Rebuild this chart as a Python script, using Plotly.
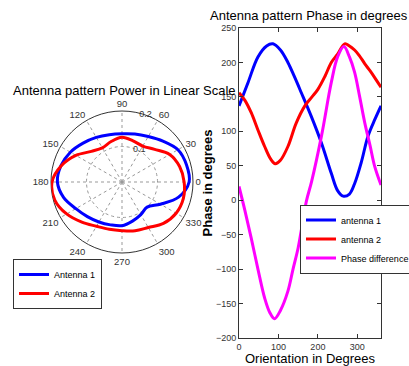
import plotly.graph_objects as go

# ---- Polar data (linear power) ----
pol_theta = [0, 15, 30, 45, 60, 75, 90, 105, 120, 135, 150, 165,
             180, 195, 210, 225, 240, 255, 270, 285, 300, 315, 330, 345, 360]
pow_ant1 = [0.189, 0.188, 0.182, 0.163, 0.148, 0.140, 0.136, 0.138, 0.145, 0.155, 0.168, 0.178,
            0.182, 0.170, 0.150, 0.138, 0.130, 0.125, 0.123, 0.114, 0.106, 0.100, 0.125, 0.165, 0.189]
pow_ant2 = [0.175, 0.168, 0.155, 0.130, 0.117, 0.120, 0.126, 0.118, 0.111, 0.122, 0.150, 0.177,
            0.197, 0.196, 0.180, 0.160, 0.144, 0.138, 0.137, 0.142, 0.148, 0.165, 0.176, 0.179, 0.175]

# ---- Phase data ----
x_ant1 = [0, 23, 48, 70, 86, 105, 124, 140, 158, 183, 209, 234, 250, 264, 280, 293, 310, 327, 345, 360]
ph_ant1 = [137, 171, 208, 224, 227, 218, 200, 180, 156, 122, 83, 39, 14, 6, 9, 24, 55, 93, 118, 137]

x_ant2 = [0, 15, 31, 48, 65, 80, 92, 105, 124, 145, 167, 185, 200, 218, 234, 250, 268, 280, 293, 305, 319, 332, 344, 360]
ph_ant2 = [156, 145, 127, 102, 78, 60, 53, 58, 78, 112, 137, 150, 161, 180, 200, 212, 227, 224, 218, 210, 198, 188, 178, 164]

x_diff = [0, 15, 31, 48, 65, 78, 90, 105, 124, 137, 150, 162, 171, 184, 209, 234, 250, 266, 280, 293, 306, 319, 332, 344, 360]
ph_diff = [20, -15, -55, -100, -142, -163, -172, -160, -132, -100, -69, -30, -1, 27, 93, 171, 208, 223, 208, 186, 150, 112, 80, 49, 22]

W, H = 409, 366
def px(x):
    return x / W
def py(y):
    return 1 - y / H

fig = go.Figure()

fig.add_trace(go.Scatterpolar(r=pow_ant1, theta=pol_theta, mode="lines", name="Antenna 1",
                              line=dict(color="#0000FF", width=3, shape="spline"), legend="legend"))
fig.add_trace(go.Scatterpolar(r=pow_ant2, theta=pol_theta, mode="lines", name="Antenna 2",
                              line=dict(color="#FF0000", width=3, shape="spline"), legend="legend"))

fig.add_trace(go.Scatter(x=x_ant1, y=ph_ant1, mode="lines", name="antenna 1",
                         line=dict(color="#0000FF", width=3, shape="spline"), legend="legend2"))
fig.add_trace(go.Scatter(x=x_ant2, y=ph_ant2, mode="lines", name="antenna 2",
                         line=dict(color="#FF0000", width=3, shape="spline"), legend="legend2"))
fig.add_trace(go.Scatter(x=x_diff, y=ph_diff, mode="lines", name="Phase difference",
                         line=dict(color="#FF00FF", width=3, shape="spline"), legend="legend2"))

tickfont = dict(family="Liberation Sans, Arial, sans-serif", size=9, color="#333")

fig.update_layout(
    template="none",
    width=W, height=H,
    margin=dict(l=0, r=0, t=0, b=0, autoexpand=False),
    paper_bgcolor="white", plot_bgcolor="white",
    font=dict(family="Liberation Sans, Arial, sans-serif", color="#000"),
    polar=dict(
        domain=dict(x=[px(51), px(193)], y=[py(253), py(111)]),
        bgcolor="white",
        angularaxis=dict(tickmode="array", tickvals=list(range(0, 360, 30)),
                         direction="counterclockwise", rotation=0,
                         showline=True, linecolor="#333", linewidth=1,
                         showgrid=True, gridcolor="#999", griddash="dot", gridwidth=1,
                         ticks="", tickfont=dict(size=9.5, color="#333"), layer="below traces"),
        radialaxis=dict(range=[0, 0.2], tickvals=[0.1, 0.2], ticktext=["0.1", "0.2"],
                        angle=80, tickangle=80, showline=False, showgrid=True, gridcolor="#999",
                        griddash="dot", gridwidth=1, ticks="",
                        tickfont=dict(size=9, color="#333"), layer="below traces"),
    ),
    xaxis=dict(domain=[px(239), px(381)], range=[0, 360], tickvals=[0, 100, 200, 300],
               ticks="inside", ticklen=4, tickcolor="#333", mirror="ticks",
               showline=True, linecolor="#333", linewidth=1, showgrid=False, zeroline=False,
               tickfont=tickfont, automargin=False,
               title=dict(text="Orientation in Degrees", font=dict(size=13, color="#000"), standoff=3)),
    yaxis=dict(domain=[py(338), py(28)], range=[-200, 250], dtick=50, tick0=0,
               ticks="inside", ticklen=4, tickcolor="#333", mirror="ticks",
               showline=True, linecolor="#333", linewidth=1, showgrid=False, zeroline=False,
               tickfont=tickfont, automargin=False,
               title=dict(text="<b>Phase in degrees</b>", font=dict(size=13, color="#000"), standoff=0)),
    legend=dict(x=px(13), y=py(284), xanchor="left", yanchor="middle",
                bgcolor="white", bordercolor="#333", borderwidth=1,
                font=dict(size=9, color="#000"), itemwidth=30, tracegroupgap=0),
    legend2=dict(x=px(300), y=py(239), xanchor="left", yanchor="middle",
                 bgcolor="white", bordercolor="#333", borderwidth=1,
                 font=dict(size=9, color="#000"), itemwidth=30, tracegroupgap=0),
    annotations=[
        dict(text="Antenna pattern Power in Linear Scale", x=px(124), y=py(90),
             xref="paper", yref="paper", xanchor="center", yanchor="middle",
             showarrow=False, font=dict(size=13, color="#000")),
        dict(text="Antenna pattern Phase in degrees", x=px(309), y=py(15),
             xref="paper", yref="paper", xanchor="center", yanchor="middle",
             showarrow=False, font=dict(size=13, color="#000")),
    ],
)

fig.write_html("out.html")
